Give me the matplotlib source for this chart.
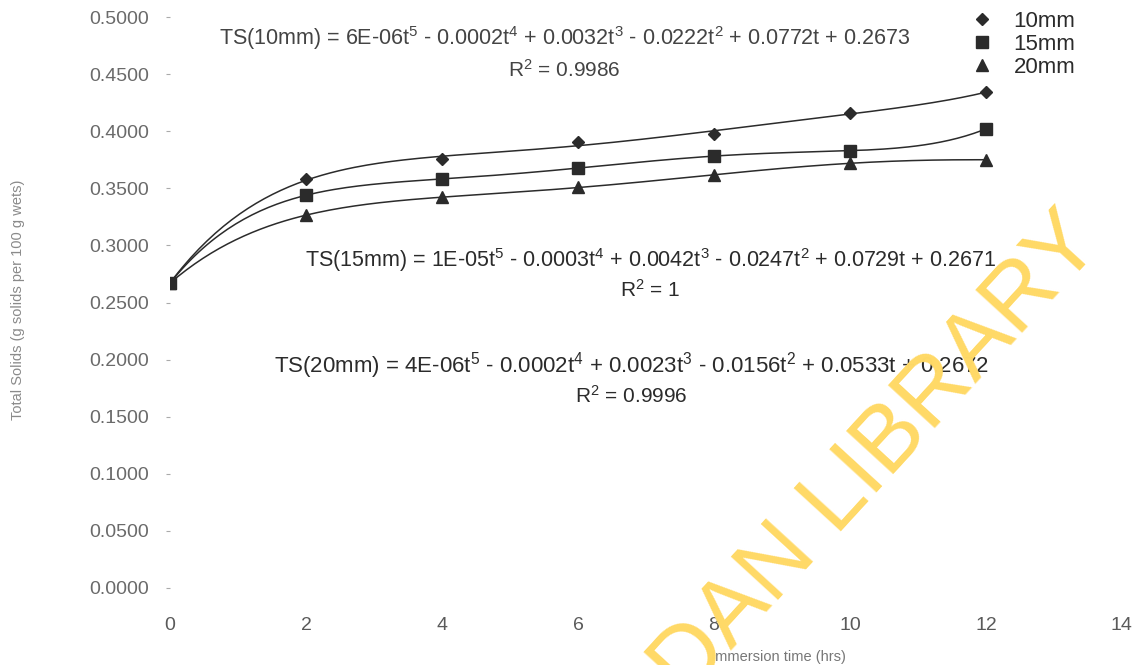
import numpy as np
import matplotlib
matplotlib.use("Agg")
import matplotlib.pyplot as plt

plt.rcParams['font.family'] = ['Liberation Sans', 'DejaVu Sans']
plt.rcParams['mathtext.fontset'] = 'custom'
plt.rcParams['mathtext.rm'] = 'Liberation Sans'
plt.rcParams['mathtext.it'] = 'Liberation Sans'
plt.rcParams['mathtext.bf'] = 'Liberation Sans'

# immersion time (hrs)
t = [0, 2, 4, 6, 8, 10, 12]
# total solids
ts_10mm = [0.2670, 0.3580, 0.3757, 0.3905, 0.3980, 0.4160, 0.4340]
ts_15mm = [0.2670, 0.3440, 0.3580, 0.3680, 0.3780, 0.3830, 0.4020]
ts_20mm = [0.2670, 0.3266, 0.3420, 0.3510, 0.3616, 0.3720, 0.3750]

labels = ['10mm', '15mm', '20mm']
markers = ['D', 's', '^']
eq_text = [
    'TS(10mm) = 6E-06t$^{5}$ - 0.0002t$^{4}$ + 0.0032t$^{3}$ - 0.0222t$^{2}$ + 0.0772t + 0.2673',
    'TS(15mm) = 1E-05t$^{5}$ - 0.0003t$^{4}$ + 0.0042t$^{3}$ - 0.0247t$^{2}$ + 0.0729t + 0.2671',
    'TS(20mm) = 4E-06t$^{5}$ - 0.0002t$^{4}$ + 0.0023t$^{3}$ - 0.0156t$^{2}$ + 0.0533t + 0.2672',
]
r2_text = ['R$^{2}$ = 0.9986', 'R$^{2}$ = 1', 'R$^{2}$ = 0.9996']

fig = plt.figure(figsize=(11.39, 6.65), dpi=100)
ax = fig.add_axes([0.1493, 0.1158, 0.8357, 0.8586])

ink = '#2b2b2b'
tt = np.linspace(0, 12, 200)
for ys, mk, lab in zip([ts_10mm, ts_15mm, ts_20mm], markers, labels):
    # 5th order polynomial trendline, as in the spreadsheet
    coef = np.polyfit(t, ys, 5)
    ax.plot(tt, np.polyval(coef, tt), color=ink, lw=1.1)
    ax.plot(t, ys, linestyle='none', marker=mk, color=ink,
            markersize=8 if mk != 'D' else 6.5, label=lab)

ax.set_xlim(0, 14)
ax.set_ylim(0, 0.5)
ax.set_xticks(np.arange(0, 15, 2))
ax.set_yticks(np.arange(0, 0.501, 0.05))
ax.set_yticklabels(['%.4f' % v for v in np.arange(0, 0.501, 0.05)])
for s in ax.spines.values():
    s.set_visible(False)
ax.tick_params(axis='y', length=3, width=0.8, color='#aaaaaa',
               labelsize=14, labelcolor='#6a6a6a', pad=12)
ax.tick_params(axis='x', length=0, labelsize=14, labelcolor='#5a5a5a', pad=21)

# trendline equations
ax.text(5.8, 0.4815, eq_text[0], fontsize=15.5, color='#444444', ha='center', va='center')
ax.text(5.8, 0.4535, r2_text[0], fontsize=15, color='#444444', ha='center', va='center')
ax.text(7.06, 0.2875, eq_text[1], fontsize=15.5, color=ink, ha='center', va='center')
ax.text(7.06, 0.2615, r2_text[1], fontsize=15, color=ink, ha='center', va='center')
ax.text(6.78, 0.1945, eq_text[2], fontsize=16, color=ink, ha='center', va='center')
ax.text(6.78, 0.1685, r2_text[2], fontsize=15, color=ink, ha='center', va='center')

ax.legend(loc='upper left', bbox_to_anchor=(0.845, 1.0), bbox_transform=fig.transFigure,
          frameon=False, fontsize=16, handlelength=0.8, handletextpad=1.0,
          labelspacing=0.08, borderpad=0, labelcolor=ink)

ax.set_xlabel('Immersion time (hrs)', fontsize=10.5, color='#777777')
ax.xaxis.set_label_coords(0.639, -0.108)
fig.text(0.016, 0.549, 'Total Solids (g solids per 100 g wets)', rotation=90,
         fontsize=10.5, color='#8a8a8a', ha='center', va='center')

# library watermark
fig.text(0.7414, 0.2067, 'IBADAN LIBRARY', fontsize=67, color='#FFD966',
         rotation=47.5, rotation_mode='anchor', ha='center', va='baseline', zorder=10)

fig.savefig('out.png', dpi=100)
